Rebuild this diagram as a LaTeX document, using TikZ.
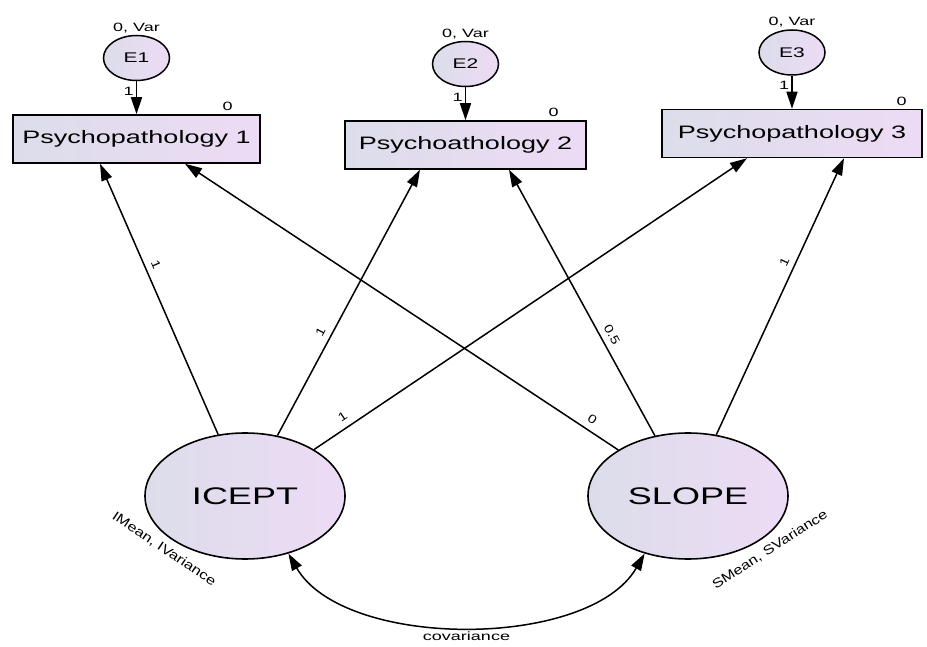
\documentclass[tikz,border=0pt]{standalone}
\usepackage{fontspec}
\setmainfont{Liberation Sans}[FakeStretch=1.5]
\newfontfamily\slantedlabel{Liberation Sans}[FakeStretch=1.25]
\usepackage{tikz}
\usetikzlibrary{positioning}
\usetikzlibrary{arrows.meta, shapes.geometric}
\definecolor{lavL}{HTML}{DCDDEA}
\definecolor{lavR}{HTML}{EDDBF5}
\tikzstyle{path edge}=[-{Triangle[length=17pt,width=11pt]},line width=1.5pt]
\tikzstyle{cov edge}=[{Triangle[length=17pt,width=11pt]}-{Triangle[length=17pt,width=11pt]},line width=1.5pt]
\tikzstyle{obs box}=[draw,line width=1.5pt,left color=lavL,right color=lavR,minimum height=48pt,inner sep=0pt,font=\fontsize{18}{20}\selectfont]
\tikzstyle{err circle}=[ellipse,draw,line width=1.5pt,left color=lavL,right color=lavR,minimum width=66pt,minimum height=45pt,inner sep=0pt,font=\fontsize{14}{16}\selectfont]
\tikzstyle{latent circle}=[ellipse,draw,line width=1.6pt,left color=lavL,right color=lavR,minimum width=200pt,minimum height=126pt,inner sep=0pt,font=\fontsize{24}{28}\selectfont]
\tikzstyle{est label}=[font=\slantedlabel\fontsize{12}{14}\selectfont,inner sep=2pt]
\tikzstyle{side label}=[font=\slantedlabel\fontsize{13}{15}\selectfont,inner sep=2pt]
\tikzstyle{val label}=[font=\fontsize{12}{14}\selectfont,inner sep=2pt]
\newcommand{\obsnode}[3][]{
  \node [obs box, #1] (#2) {#3}
}
\newcommand{\errnode}[3][]{
  \node [err circle, #1] (#2) {#3}
}
\newcommand{\latentnode}[3][]{
  \node [latent circle, #1] (#2) {#3}
}

\begin{document}
\begin{tikzpicture}[x=1pt,y=1pt,node distance=33pt]
        \useasboundingbox (0,0) rectangle (927,646);
        \obsnode[minimum width=247pt, at={(136.5,507)}]{P1}{Psychopathology 1};
        \obsnode[minimum width=241pt, at={(465.5,501)}]{P2}{Psychoathology 2};
        \obsnode[minimum width=260pt, at={(792,512.5)}]{P3}{Psychopathology 3};

        \errnode[above=of P1]{E1}{E1};
        \errnode[above=of P2]{E2}{E2};
        \errnode[above=of P3]{E3}{E3};
                \node[val label, above=0pt of E1] (v1) {0, Var};
                \node[val label, above=0pt of E2] (v2) {0, Var};
                \node[val label, above=0pt of E3] (v3) {0, Var};
                \node[val label, above left=1pt and 26pt of P1.north east] (m1) {0};
                \node[val label, above left=1pt and 26pt of P2.north east] (m2) {0};
                \node[val label, above left=1pt and 14pt of P3.north east] (m3) {0};

        \latentnode[at={(245,150)}]{icept}{ICEPT};
        \latentnode[at={(688,150)}]{slope}{SLOPE};
                \node[side label, rotate=-34] (imean) at (164,97) {IMean, IVariance};
                \node[side label, rotate=33] (smean) at (770,96) {SMean, SVariance};

            \draw[path edge] (E1) -- node[val label,left,pos=0.3] {1} (P1);
            \draw[path edge] (E2) -- node[val label,left,pos=0.3] {1} (P2);
            \draw[path edge] (E3) -- node[val label,left,pos=0.3] {1} (P3);

            \draw[path edge] (icept) -- node[est label,sloped,above=4pt,pos=0.61] {1} ([xshift=-36.5pt]P1.south);
            \draw[path edge] (icept) -- node[est label,sloped,above=4pt,pos=0.37] {1} ([xshift=-45.5pt]P2.south);
            \draw[path edge] (icept) -- node[est label,sloped,above=4pt,pos=0.08] {1} ([xshift=-45pt]P3.south);

            \draw[path edge] (slope) -- node[est label,sloped,above=4pt,pos=0.074] {0} ([xshift=48.5pt]P1.south);
            \draw[path edge] (slope) -- node[est label,sloped,above=4pt,pos=0.36] {0.5} ([xshift=43.5pt]P2.south);
            \draw[path edge] (slope) -- node[est label,sloped,above=4pt,pos=0.61] {1} ([xshift=52pt]P3.south);

            \draw[cov edge] (icept.-53) to[out=-60,in=-120,looseness=0.8] node[val label,below=3pt] {covariance} (slope.-127);
        \end{tikzpicture}
\end{document}
